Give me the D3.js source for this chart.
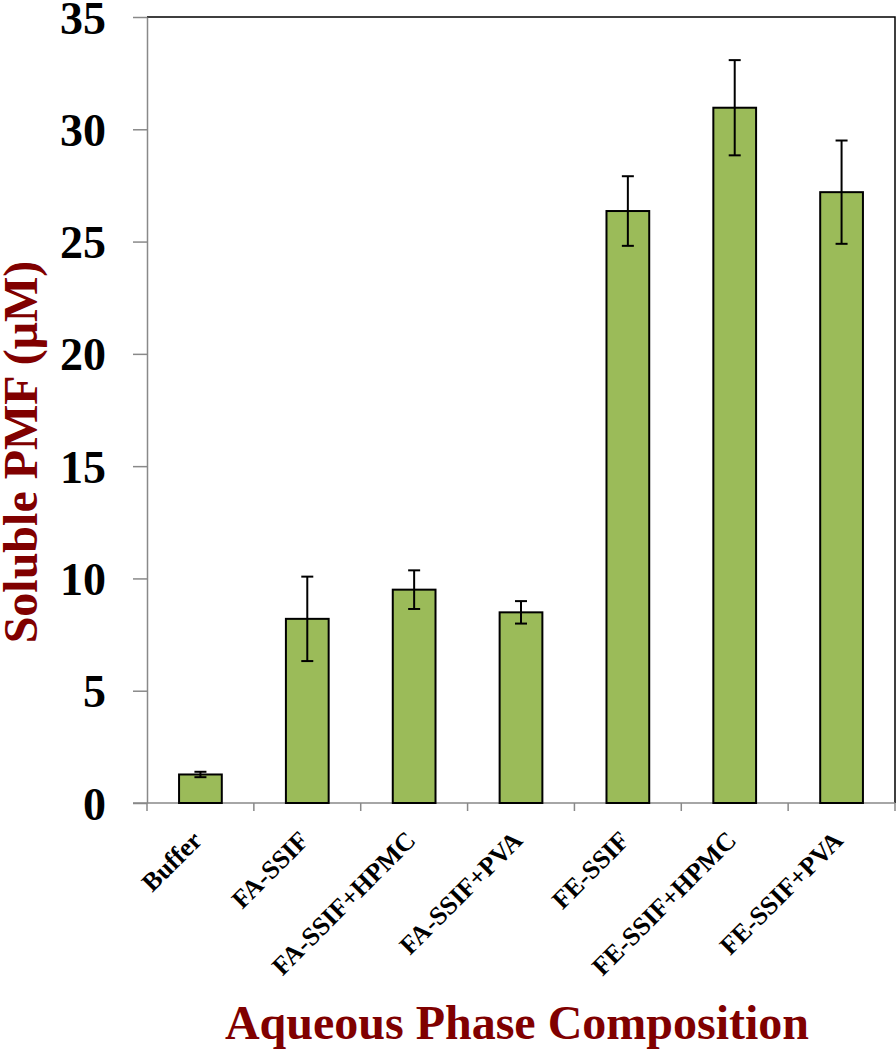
<!DOCTYPE html>
<html>
<head>
<meta charset="utf-8">
<script src="https://cdn.jsdelivr.net/npm/d3@7"></script>
<style>
  html, body { margin: 0; padding: 0; background: #fff; }
  svg { display: block; }
</style>
</head>
<body>
<svg id="chart" width="896" height="1050"></svg>
<script>
const categories = ["Buffer", "FA-SSIF", "FA-SSIF+HPMC", "FA-SSIF+PVA", "FE-SSIF", "FE-SSIF+HPMC", "FE-SSIF+PVA"];
const means = [1.27, 8.2, 9.5, 8.49, 26.36, 30.96, 27.2];
const errors = [0.12, 1.88, 0.86, 0.5, 1.55, 2.12, 2.3];
const yTicks = [0, 5, 10, 15, 20, 25, 30, 35];
const yTitle = "Soluble PMF (\u03BCM)";
const xTitle = "Aqueous Phase Composition";

(function () {
const svg = d3.select("#chart");
const pLeft = 147, pRight = 895, pTop = 17, pBottom = 803;
const font = "'Liberation Serif', 'Times New Roman', serif";
const axisGray = "#898989";
const titleColor = "#800000";

const y = d3.scaleLinear().domain([0, 35]).range([pBottom, pTop]);
const x = d3.scaleBand().domain(categories).range([pLeft, pRight]).paddingInner(0.6).paddingOuter(0.3);
const step = x.step();

// top and right border
svg.append("path")
  .attr("d", `M${pLeft},${pTop}H${pRight}V${pBottom}`)
  .attr("fill", "none").attr("stroke", "#000").attr("stroke-width", 1.5);

// y axis
const yAxis = svg.append("g").attr("transform", `translate(${pLeft},0)`)
  .call(d3.axisLeft(y).tickValues(yTicks).tickSize(14).tickSizeOuter(0).tickFormat(d3.format("d")));
yAxis.select(".domain").attr("stroke", axisGray).attr("stroke-width", 1.5);
yAxis.selectAll(".tick line").attr("stroke", axisGray).attr("stroke-width", 1.5);
yAxis.selectAll(".tick text")
  .attr("x", -41).attr("dy", null).attr("y", 16)
  .attr("font-family", font).attr("font-weight", "bold").attr("font-size", 46)
  .attr("fill", "#000").attr("text-anchor", "end");

// x axis line
svg.append("line")
  .attr("x1", pLeft - 14).attr("x2", pRight).attr("y1", pBottom).attr("y2", pBottom)
  .attr("stroke", axisGray).attr("stroke-width", 1.5);
// x tick marks at category boundaries
const boundaries = d3.range(categories.length + 1).map(i => pLeft + i * step);
svg.append("g").selectAll("line").data(boundaries).join("line")
  .attr("x1", d => d).attr("x2", d => d)
  .attr("y1", pBottom).attr("y2", pBottom + 8)
  .attr("stroke", axisGray).attr("stroke-width", 1.5);

// bars
const data = categories.map((c, i) => ({ c, m: means[i], e: errors[i] }));
svg.append("g").selectAll("rect").data(data).join("rect")
  .attr("x", d => x(d.c)).attr("width", x.bandwidth())
  .attr("y", d => y(d.m)).attr("height", d => y(0) - y(d.m))
  .attr("fill", "#9BBB59").attr("stroke", "#000").attr("stroke-width", 2);

// error bars
const eb = svg.append("g").attr("stroke", "#000").attr("stroke-width", 2);
const cap = 6;
data.forEach(d => {
  const cx = x(d.c) + x.bandwidth() / 2;
  eb.append("line").attr("x1", cx).attr("x2", cx).attr("y1", y(d.m + d.e)).attr("y2", y(d.m - d.e));
  eb.append("line").attr("x1", cx - cap).attr("x2", cx + cap).attr("y1", y(d.m + d.e)).attr("y2", y(d.m + d.e));
  eb.append("line").attr("x1", cx - cap).attr("x2", cx + cap).attr("y1", y(d.m - d.e)).attr("y2", y(d.m - d.e));
});

// x tick labels
svg.append("g").selectAll("text").data(categories).join("text")
  .attr("transform", d => `translate(${x(d) + x.bandwidth() / 2 + 3},${pBottom + 39}) rotate(-45)`)
  .attr("text-anchor", "end")
  .attr("font-family", font).attr("font-weight", "bold").attr("font-size", 26)
  .attr("fill", "#000")
  .text(d => d);

// axis titles
svg.append("text")
  .attr("transform", `translate(37,452) rotate(-90)`)
  .attr("text-anchor", "middle")
  .attr("font-family", font).attr("font-weight", "bold").attr("font-size", 48)
  .attr("fill", titleColor)
  .text(yTitle);

svg.append("text")
  .attr("x", 517).attr("y", 1039)
  .attr("text-anchor", "middle")
  .attr("font-family", font).attr("font-weight", "bold").attr("font-size", 48)
  .attr("fill", titleColor)
  .text(xTitle);
})();
</script>
</body>
</html>
